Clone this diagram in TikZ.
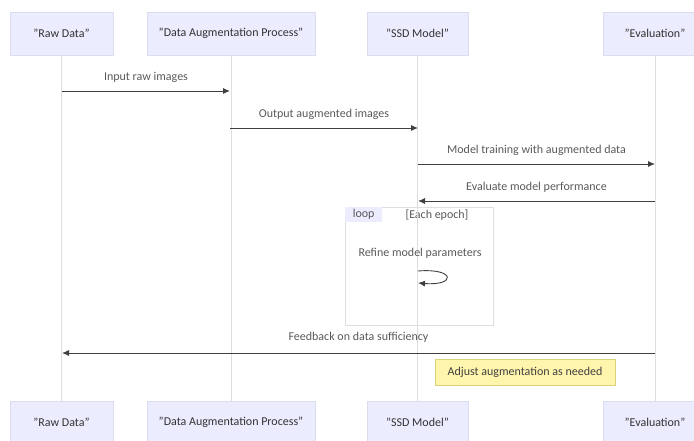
\documentclass[tikz,border=0pt]{standalone}
\usepackage{fontspec}
\setmainfont{Carlito}
\usetikzlibrary{arrows.meta}
\definecolor{actorfill}{HTML}{ECECFF}
\definecolor{actorline}{HTML}{DCDCF0}
\definecolor{notefill}{HTML}{FFF5AD}
\definecolor{noteline}{HTML}{D8D27A}
\tikzstyle{actor}=[rectangle, draw=actorline, fill=actorfill, minimum height=43, inner sep=0pt, text=black!80]
\tikzstyle{life}=[draw=black!13, line width=1]
\tikzstyle{msg}=[draw=black!75, line width=0.9, -{Latex[length=7,width=6]}]
\tikzstyle{lbl}=[text=black!65]
\tikzstyle{note}=[rectangle, draw=noteline, fill=notefill, minimum width=180, minimum height=26, text=black!75]

\begin{document}
\begin{tikzpicture}[x=1pt, y=-1pt, font=\fontsize{12}{14}\selectfont]
                    \useasboundingbox (0,0) rectangle (694,441);
                    % actors, top and bottom
                    \node[actor, minimum width=103] (rawT)  at (61.5, 33.5) {"Raw Data"};
                    \node[actor, minimum width=168] (augT)  at (231, 33.5)  {"Data Augmentation Process"};
                    \node[actor, minimum width=101] (ssdT)  at (417.5, 33.5) {"SSD Model"};
                    \node[actor, minimum width=104] (evalT) at (655, 33.5)  {"Evaluation"};
                    \node[actor, minimum width=103] (rawB)  at (61.5, 422.5) {"Raw Data"};
                    \node[actor, minimum width=168] (augB)  at (231, 422.5)  {"Data Augmentation Process"};
                    \node[actor, minimum width=101] (ssdB)  at (417.5, 422.5) {"SSD Model"};
                    \node[actor, minimum width=104] (evalB) at (655, 422.5)  {"Evaluation"};
                    % loop frame
                    \draw[draw=black!13, line width=0.8] (345,207) rectangle (493,325);
                    \node[fill=actorfill, minimum width=37, minimum height=15, inner sep=0pt, anchor=north west, lbl] (loop) at (345,207) {loop};
                    \node[lbl] (epoch) at (437,215) {[Each epoch]};
                    % lifelines
                    \draw[life] (rawT) -- (rawB);
                    \draw[life] (augT) -- (augB);
                    \draw[life] (ssdT) -- (ssdB);
                    \draw[life] (evalT) -- (evalB);
                    % message ends
                    \coordinate (raw1)  at (62, 91);
                    \coordinate (aug1)  at (230, 91);
                    \coordinate (aug2)  at (230, 128);
                    \coordinate (ssd2)  at (418, 128);
                    \coordinate (ssd3)  at (418, 164);
                    \coordinate (eval3) at (655, 164);
                    \coordinate (eval4) at (655, 201);
                    \coordinate (ssd4)  at (418, 201);
                    \coordinate (ssd5)  at (418, 271);
                    \coordinate (ssd6)  at (418, 283);
                    \coordinate (eval7) at (655, 353);
                    \coordinate (raw7)  at (62, 353);
                    % messages
                    \draw[msg] (raw1) -- node[lbl, above=5] (m1) {Input raw images} (aug1);
                    \draw[msg] (aug2) -- node[lbl, above=5] (m2) {Output augmented images} (ssd2);
                    \draw[msg] (ssd3) -- node[lbl, above=5] (m3) {Model training with augmented data} (eval3);
                    \draw[msg] (eval4) -- node[lbl, above=5] (m4) {Evaluate model performance} (ssd4);
                    \node[lbl] (m5) at (420, 253) {Refine model parameters};
                    \draw[msg] (ssd5) .. controls (456, 268) and (456, 286) .. (ssd6);
                    \draw[msg] (eval7) -- node[lbl, above=7] (m6) {Feedback on data sufficiency} (raw7);
                    \node[note] (adj) at (525, 372) {Adjust augmentation as needed};
                \end{tikzpicture}
\end{document}
